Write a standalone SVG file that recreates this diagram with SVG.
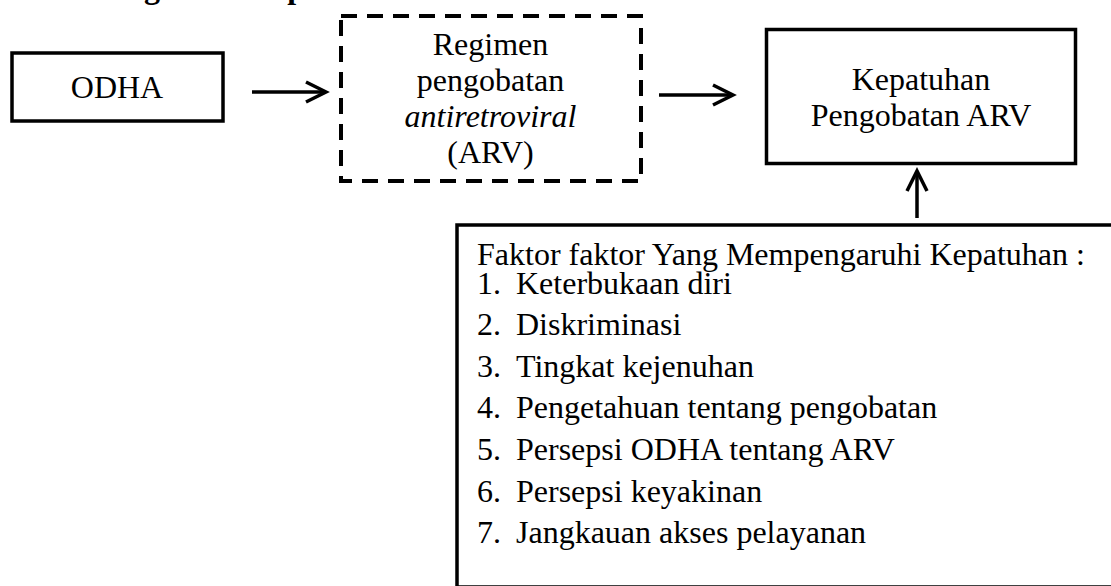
<svg xmlns="http://www.w3.org/2000/svg" width="1111" height="586" viewBox="0 0 1111 586">
  <style>
    .t { font-family: "Liberation Serif", "Times New Roman", serif; font-size: 32px; fill: #000; }
    .c { text-anchor: middle; }
    .box { fill: #fff; stroke: #000; stroke-width: 3.5; }
    .dash { fill: #fff; stroke: #000; stroke-width: 4; stroke-dasharray: 16 10; }
    .conn { fill: none; stroke: #000; stroke-width: 3.5; }
  </style>
  <defs>
    <marker id="arrow" markerUnits="userSpaceOnUse" viewBox="-24 -14 28 28" refX="0" refY="0" markerWidth="28" markerHeight="28" orient="auto">
      <path d="M-20,-10 L0,0 L-20,10" fill="none" stroke="#000" stroke-width="3.5" stroke-linejoin="miter"/>
    </marker>
  </defs>
  <rect width="1111" height="586" fill="#fff"/>

  <text class="t" x="57" y="-2" font-weight="bold">Kerangka Konsep</text>

  <g id="odha">
    <rect class="box" x="12" y="53" width="211" height="68"/>
    <text class="t c" x="117" y="98">ODHA</text>
  </g>

  <g id="regimen">
    <rect class="dash" x="341" y="16" width="300" height="165"/>
    <text class="t c" x="490.5" y="55">Regimen</text>
    <text class="t c" x="490.5" y="91">pengobatan</text>
    <text class="t c" x="490.5" y="127" font-style="italic">antiretroviral</text>
    <text class="t c" x="490.5" y="163">(ARV)</text>
  </g>

  <g id="kepatuhan">
    <rect class="box" x="766.5" y="29.5" width="309" height="134"/>
    <text class="t c" x="921" y="90">Kepatuhan</text>
    <text class="t c" x="921" y="126">Pengobatan ARV</text>
  </g>

  <g id="faktor">
    <rect class="box" x="457" y="225" width="700" height="362"/>
    <text class="t" x="477" y="265">Faktor faktor Yang Mempengaruhi Kepatuhan :</text>
    <text class="t" x="477" y="294">1.</text><text class="t" x="516" y="294">Keterbukaan diri</text>
    <text class="t" x="477" y="335">2.</text><text class="t" x="516" y="335">Diskriminasi</text>
    <text class="t" x="477" y="377">3.</text><text class="t" x="516" y="377">Tingkat kejenuhan</text>
    <text class="t" x="477" y="418">4.</text><text class="t" x="516" y="418">Pengetahuan tentang pengobatan</text>
    <text class="t" x="477" y="460">5.</text><text class="t" x="516" y="460">Persepsi ODHA tentang ARV</text>
    <text class="t" x="477" y="502">6.</text><text class="t" x="516" y="502">Persepsi keyakinan</text>
    <text class="t" x="477" y="543">7.</text><text class="t" x="516" y="543">Jangkauan akses pelayanan</text>
  </g>

  <g id="connectors">
    <line class="conn" x1="252" y1="92" x2="326" y2="92" marker-end="url(#arrow)"/>
    <line class="conn" x1="659" y1="95" x2="733" y2="95" marker-end="url(#arrow)"/>
    <line class="conn" x1="917" y1="218" x2="917" y2="171" marker-end="url(#arrow)"/>
  </g>
</svg>
